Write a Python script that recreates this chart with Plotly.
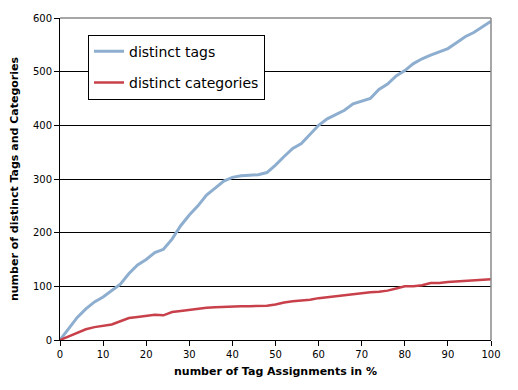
import plotly.graph_objects as go

pct = list(range(0, 101, 2))
distinct_tags = [0, 22, 42, 58, 71, 80, 92, 104, 124, 140, 150, 163, 169, 188, 213, 233, 250, 270, 283, 296,
                 303, 306, 307, 308, 312, 326, 342, 357, 366, 383, 400, 412, 420, 428, 440, 445, 450, 467, 477,
                 492, 502, 515, 524, 531, 537, 543, 554, 565, 573, 583, 594]
distinct_categories = [0, 7, 14, 20, 24, 26, 29, 35, 41, 43, 45, 47, 46, 52, 54, 56, 59, 60, 61, 62,
                       63, 63, 63, 63, 64, 66, 70, 72, 73, 75, 78, 80, 82, 84, 86, 88, 89, 90, 92,
                       96, 100, 100, 102, 106, 106, 108, 109, 109, 110, 111, 113]
x_ticks = list(range(0, 101, 10))
y_ticks = list(range(0, 601, 100))

FONT = "Verdana, DejaVu Sans, sans-serif"

fig = go.Figure()
fig.add_trace(go.Scatter(x=pct, y=distinct_tags, mode="lines", name="distinct tags",
                         legendgroup="a", line=dict(color="#8eaed0", width=3)))
fig.add_trace(go.Scatter(x=pct, y=distinct_categories, mode="lines", name="distinct categories",
                         legendgroup="b", line=dict(color="#c8404a", width=2.5)))

fig.update_layout(
    width=518, height=390,
    margin=dict(l=60, r=27, t=15, b=50),
    paper_bgcolor="white", plot_bgcolor="white",
    font=dict(family=FONT, size=10, color="black"),
    showlegend=True,
    legend=dict(x=0.065, y=0.948, xanchor="left", yanchor="top",
                bgcolor="white", bordercolor="black", borderwidth=1,
                font=dict(family=FONT, size=14, color="black"),
                itemwidth=30,
                traceorder="grouped", tracegroupgap=10),
    xaxis=dict(range=[0, 100], tickvals=x_ticks, showgrid=False, zeroline=False,
               showline=True, linecolor="black", linewidth=1,
               ticks="outside", ticklen=5, tickcolor="black",
               title=dict(text="<b>number of Tag Assignments in %</b>", font=dict(size=11), standoff=8)),
    yaxis=dict(range=[0, 600], tickvals=y_ticks, showgrid=True, gridcolor="black", gridwidth=1,
               zeroline=False, showline=True, linecolor="black", linewidth=1,
               ticks="outside", ticklen=5, tickcolor="black",
               title=dict(text="<b>number of distinct Tags and Categories</b>", font=dict(size=11), standoff=12)),
    shapes=[
        dict(type="line", xref="paper", yref="paper", x0=0, x1=1, y0=1, y1=1,
             line=dict(color="#888888", width=1.5), layer="above"),
        dict(type="line", xref="paper", yref="paper", x0=1, x1=1, y0=0, y1=1,
             line=dict(color="#888888", width=1.5), layer="above"),
    ],
)

fig.write_html("out.html")
